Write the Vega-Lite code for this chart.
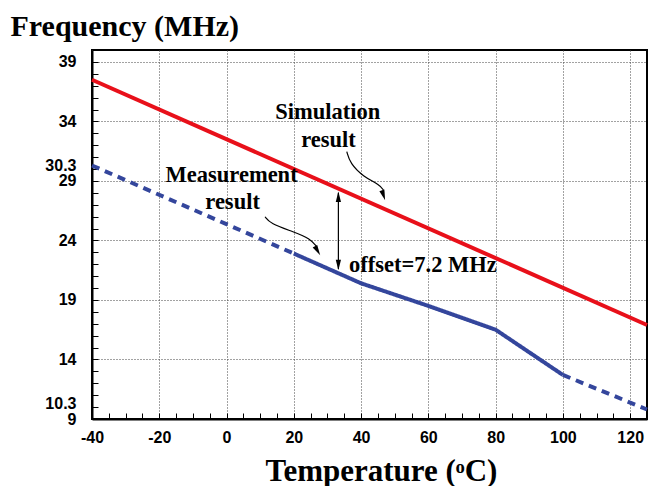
{
  "$schema": "https://vega.github.io/schema/vega-lite/v6.json",
  "width": 555,
  "height": 369,
  "autosize": {"type": "none"},
  "padding": {"left": 92, "top": 50, "right": 3, "bottom": 67},
  "background": "white",
  "config": {
    "view": {"stroke": "black", "strokeWidth": 2},
    "axis": {"labelFont": "Liberation Sans", "labelFontWeight": "bold", "labelFontSize": 16, "labelColor": "black", "domainColor": "black", "domainWidth": 2, "titleFont": "Liberation Serif", "titleFontWeight": "bold", "titleColor": "black", "labelFlush": false, "labelOverlap": false, "labelBound": false}
  },
  "datasets": {
    "sim": [{"t": -40, "f": 37.5}, {"t": 125, "f": 16.9}],
    "meas": [
      {"t": -40, "f": 30.3, "seg": "a", "style": "dashed"},
      {"t": 20, "f": 22.9, "seg": "a", "style": "dashed"},
      {"t": 20, "f": 22.9, "seg": "b", "style": "solid"},
      {"t": 40, "f": 20.4, "seg": "b", "style": "solid"},
      {"t": 60, "f": 18.5, "seg": "b", "style": "solid"},
      {"t": 80, "f": 16.5, "seg": "b", "style": "solid"},
      {"t": 100, "f": 12.7, "seg": "b", "style": "solid"},
      {"t": 100, "f": 12.7, "seg": "c", "style": "dashed"},
      {"t": 125, "f": 9.8, "seg": "c", "style": "dashed"}
    ],
    "curves": [
      {"id": "sim", "o": 1, "t": 35.75, "f": 31.46},
      {"id": "sim", "o": 2, "t": 36.73, "f": 30.48},
      {"id": "sim", "o": 3, "t": 40.69, "f": 29.35},
      {"id": "sim", "o": 4, "t": 45.65, "f": 28.66},
      {"id": "sim", "o": 5, "t": 46.63, "f": 28.23},
      {"id": "meas", "o": 1, "t": 11.45, "f": 25.99},
      {"id": "meas", "o": 2, "t": 12.94, "f": 25.43},
      {"id": "meas", "o": 3, "t": 19.87, "f": 24.73},
      {"id": "meas", "o": 4, "t": 24.83, "f": 24.17},
      {"id": "meas", "o": 5, "t": 26.82, "f": 23.47}
    ],
    "labels": [
      {"t": 30.1, "f": 34.79, "text": "Simulation"},
      {"t": 30.3, "f": 32.44, "text": "result"},
      {"t": 1.5, "f": 29.5, "text": "Measurement"},
      {"t": 1.8, "f": 27.26, "text": "result"}
    ]
  },
  "layer": [
    {
      "data": {"name": "sim"},
      "mark": {"type": "line", "color": "#e8101a", "strokeWidth": 4},
      "encoding": {
        "x": {"field": "t", "type": "quantitative", "scale": {"domain": [-40, 125], "nice": false, "zero": false},
          "axis": {"orient": "bottom", "values": [-40, -20, 0, 20, 40, 60, 80, 100, 120], "labelExpr": "replace(datum.label, '−', '-')", "ticks": false, "labelPadding": 10, "grid": true, "gridColor": "#444", "gridDash": [1, 2], "gridWidth": 1,
            "title": "Temperature (ᵒC)", "titleFontSize": 31, "titleX": 289, "titleY": 61, "titleBaseline": "alphabetic", "titleAlign": "center"}},
        "y": {"field": "f", "type": "quantitative", "scale": {"domain": [9, 40], "nice": false, "zero": false},
          "axis": {"orient": "left", "values": [9, 10.3, 14, 19, 24, 29, 30.3, 34, 39], "labelExpr": "format(datum.value, '.1~f')", "ticks": false, "labelPadding": 16, "grid": false,
            "title": "Frequency (MHz)", "titleFontSize": 30, "titleAngle": 0, "titleAlign": "left", "titleBaseline": "alphabetic", "titleX": -82, "titleY": -15}}
      }
    },
    {
      "data": {"name": "meas"},
      "mark": {"type": "line", "color": "#34469c", "strokeWidth": 4},
      "encoding": {
        "x": {"field": "t", "type": "quantitative", "axis": {"orient": "bottom", "values": [-40, -35, -30, -25, -20, -15, -10, -5, 0, 5, 10, 15, 20, 25, 30, 35, 40, 45, 50, 55, 60, 65, 70, 75, 80, 85, 90, 95, 100, 105, 110, 115, 120], "labels": false, "grid": false, "tickSize": -6, "tickColor": "black", "tickWidth": 1, "title": null, "domain": false}},
        "y": {"field": "f", "type": "quantitative", "axis": {"orient": "left", "values": [14, 19, 24, 29, 34, 39], "labels": false, "ticks": false, "grid": true, "gridColor": "#444", "gridDash": [1, 2], "gridWidth": 1, "title": null, "domain": false}},
        "detail": {"field": "seg"},
        "strokeDash": {"field": "style", "type": "nominal", "scale": {"domain": ["solid", "dashed"], "range": [[1, 0], [8, 6]]}, "legend": null}
      }
    },
    {
      "data": {"name": "curves"},
      "mark": {"type": "line", "color": "black", "strokeWidth": 1.2, "interpolate": "basis"},
      "encoding": {
        "x": {"field": "t", "type": "quantitative", "axis": null},
        "y": {"field": "f", "type": "quantitative", "axis": {"orient": "left", "values": [9,10,11,12,13,14,15,16,17,18,19,20,21,22,23,24,25,26,27,28,29,30,31,32,33,34,35,36,37,38,39], "labels": false, "grid": false, "tickSize": -6, "tickColor": "black", "title": null, "domain": false}},
        "detail": {"field": "id"},
        "order": {"field": "o", "type": "quantitative"}
      }
    },
    {
      "data": {"values": [{"t": 46.66, "f": 27.79}]},
      "mark": {"type": "point", "shape": "M-0.5,-1L0.5,-1L0,1Z", "filled": true, "color": "black", "size": 110, "angle": 342, "opacity": 1},
      "encoding": {"x": {"field": "t", "type": "quantitative", "axis": null}, "y": {"field": "f", "type": "quantitative", "axis": null}}
    },
    {
      "data": {"values": [{"t": 27.06, "f": 23.13}]},
      "mark": {"type": "point", "shape": "M-0.5,-1L0.5,-1L0,1Z", "filled": true, "color": "black", "size": 110, "angle": 330, "opacity": 1},
      "encoding": {"x": {"field": "t", "type": "quantitative", "axis": null}, "y": {"field": "f", "type": "quantitative", "axis": null}}
    },
    {
      "data": {"values": [{"t": 33.25, "f": 28.0, "f2": 21.6}]},
      "mark": {"type": "rule", "color": "black", "strokeWidth": 1.2},
      "encoding": {"x": {"field": "t", "type": "quantitative", "axis": null}, "y": {"field": "f", "type": "quantitative", "axis": null}, "y2": {"field": "f2"}}
    },
    {
      "data": {"values": [{"t": 33.25, "f": 27.67}]},
      "mark": {"type": "point", "shape": "M-0.5,-1L0.5,-1L0,1Z", "filled": true, "color": "black", "size": 110, "angle": 180, "opacity": 1},
      "encoding": {"x": {"field": "t", "type": "quantitative", "axis": null}, "y": {"field": "f", "type": "quantitative", "axis": null}}
    },
    {
      "data": {"values": [{"t": 33.25, "f": 21.93}]},
      "mark": {"type": "point", "shape": "M-0.5,-1L0.5,-1L0,1Z", "filled": true, "color": "black", "size": 110, "angle": 0, "opacity": 1},
      "encoding": {"x": {"field": "t", "type": "quantitative", "axis": null}, "y": {"field": "f", "type": "quantitative", "axis": null}}
    },
    {
      "data": {"name": "labels"},
      "mark": {"type": "text", "font": "Liberation Serif", "fontWeight": "bold", "fontSize": 22.5, "color": "black", "align": "center", "baseline": "middle"},
      "encoding": {"x": {"field": "t", "type": "quantitative", "axis": null}, "y": {"field": "f", "type": "quantitative", "axis": null}, "text": {"field": "text"}}
    },
    {
      "data": {"values": [{"t": 36.43, "f": 21.93, "text": "offset=7.2 MHz"}]},
      "mark": {"type": "text", "font": "Liberation Serif", "fontWeight": "bold", "fontSize": 22.5, "color": "black", "align": "left", "baseline": "middle"},
      "encoding": {"x": {"field": "t", "type": "quantitative", "axis": null}, "y": {"field": "f", "type": "quantitative", "axis": null}, "text": {"field": "text"}}
    }
  ],
  "resolve": {"axis": {"x": "independent", "y": "independent"}}
}
